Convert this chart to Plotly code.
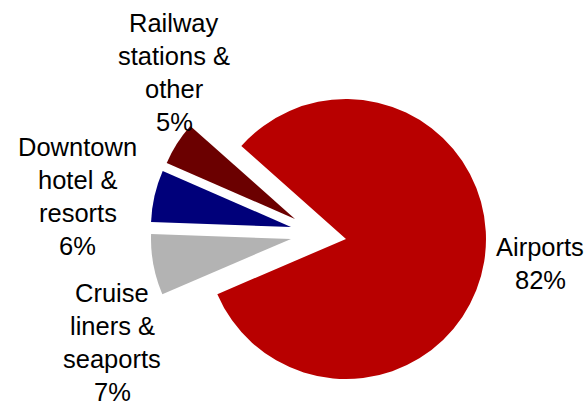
import plotly.graph_objects as go

# Share of sales by channel
categories = ["Airports", "Cruise liners & seaports", "Downtown hotel & resorts", "Railway stations & other"]
shares = [82, 7, 6, 5]
# how each category name is broken over lines in its label
label_lines = [
    ["Airports"],
    ["Cruise", "liners &", "seaports"],
    ["Downtown", "hotel &", "resorts"],
    ["Railway", "stations &", "other"],
]

colors = ["#B80000", "#B3B3B3", "#00007A", "#6B0000"]

W, H = 585, 406
R = 140                      # pie radius, px
CX, CY = 346, 239            # centre of the main pie, px from top-left
ROTATION = 311.6             # start angle of the first slice, clockwise from 12 o'clock
# exploded slices: shift of each slice's apex, px
explode = [(0, 0), (-55, 0), (-55, -12), (-51, -20)]

FONT = "Liberation Sans, Arial, sans-serif"
FS = 25.5
LINE_GAP = 33
# label anchors: centre x and baseline of the first line, px
label_pos = [(540, 256), (112, 302), (77.5, 156), (174, 32)]

fig = go.Figure()

for i, (dx, dy) in enumerate(explode):
    cx, cy = CX + dx, CY + dy
    slice_colors = [c if j == i else "rgba(0,0,0,0)" for j, c in enumerate(colors)]
    fig.add_trace(go.Pie(
        labels=categories,
        values=shares,
        sort=False,
        direction="clockwise",
        rotation=ROTATION,
        marker=dict(colors=slice_colors, line=dict(width=0)),
        textinfo="none",
        hoverinfo="skip",
        showlegend=False,
        domain=dict(
            x=[(cx - R) / W, (cx + R) / W],
            y=[(H - cy - R) / H, (H - cy + R) / H],
        ),
    ))

annotations = []
for name_lines, share, (lx, ly) in zip(label_lines, shares, label_pos):
    lines = name_lines + [f"{share}%"]
    for k, line in enumerate(lines):
        baseline = ly + k * LINE_GAP
        annotations.append(dict(
            text=line,
            x=lx / W,
            y=1 - (baseline - 0.347 * FS) / H,
            xref="paper", yref="paper",
            xanchor="center", yanchor="middle",
            showarrow=False,
            borderpad=0,
            font=dict(family=FONT, size=FS, color="#000000"),
        ))

fig.update_layout(
    width=W, height=H,
    margin=dict(l=0, r=0, t=0, b=0),
    paper_bgcolor="white",
    plot_bgcolor="white",
    annotations=annotations,
    showlegend=False,
)

fig.write_html("out.html")
